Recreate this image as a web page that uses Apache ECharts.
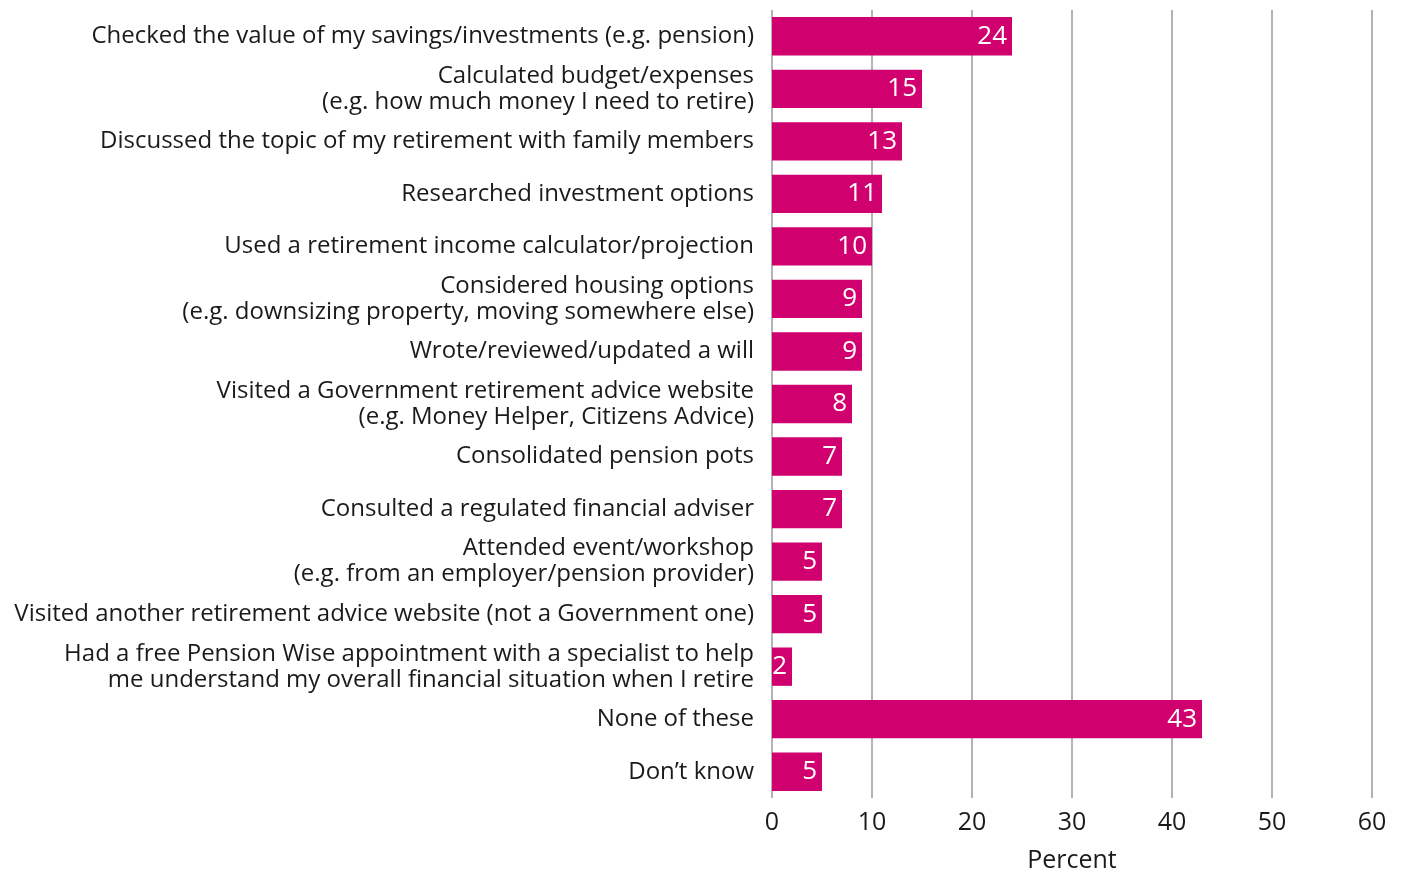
<!DOCTYPE html>
<html>
<head>
<meta charset="utf-8">
<script src="https://cdn.jsdelivr.net/npm/echarts@6/dist/echarts.min.js"></script>
<style>
  html, body { margin: 0; padding: 0; background: #fff; }
  #chart { width: 1406px; height: 872px; }
</style>
</head>
<body>
<div id="chart"></div>
<script>
// categories top to bottom
const categories = [
  "Checked the value of my savings/investments (e.g. pension)",
  "Calculated budget/expenses\n(e.g. how much money I need to retire)",
  "Discussed the topic of my retirement with family members",
  "Researched investment options",
  "Used a retirement income calculator/projection",
  "Considered housing options\n(e.g. downsizing property, moving somewhere else)",
  "Wrote/reviewed/updated a will",
  "Visited a Government retirement advice website\n(e.g. Money Helper, Citizens Advice)",
  "Consolidated pension pots",
  "Consulted a regulated financial adviser",
  "Attended event/workshop\n(e.g. from an employer/pension provider)",
  "Visited another retirement advice website (not a Government one)",
  "Had a free Pension Wise appointment with a specialist to help\nme understand my overall financial situation when I retire",
  "None of these",
  "Don\u2019t know"
];
const values = [24, 15, 13, 11, 10, 9, 9, 8, 7, 7, 5, 5, 2, 43, 5];
const xTicks = [0, 10, 20, 30, 40, 50, 60];

const font = "'Open Sans', 'Noto Sans', sans-serif";
const myChart = echarts.init(document.getElementById("chart"));

const option = {
  animation: false,
  grid: {
    left: 772,
    right: 34,
    top: 10,
    bottom: 74,
    containLabel: false,
    outerBoundsMode: "none"
  },
  xAxis: {
    type: "value",
    min: xTicks[0],
    max: xTicks[xTicks.length - 1],
    interval: 10,
    name: "Percent",
    nameLocation: "middle",
    nameGap: 50,
    nameTextStyle: { color: "#1a1a1a", fontSize: 25, fontFamily: font },
    axisLine: { show: false },
    axisTick: { show: false },
    axisLabel: { color: "#1a1a1a", fontSize: 25, fontFamily: font, margin: 12 },
    splitLine: { show: true, lineStyle: { color: "#9a9a9a", width: 1.5 } }
  },
  yAxis: {
    type: "category",
    inverse: true,
    data: categories,
    axisLine: { show: false },
    axisTick: { show: false },
    axisLabel: {
      color: "#1a1a1a",
      fontSize: 24,
      lineHeight: 26,
      fontFamily: font,
      margin: 18,
      align: "right"
    }
  },
  series: [
    {
      type: "bar",
      data: values,
      barCategoryGap: "27%",
      itemStyle: { color: "#d0006f" },
      label: {
        show: true,
        position: "insideRight",
        distance: 5,
        color: "#fff",
        fontSize: 26,
        fontFamily: font
      }
    }
  ]
};

option && myChart.setOption(option);
</script>
</body>
</html>
